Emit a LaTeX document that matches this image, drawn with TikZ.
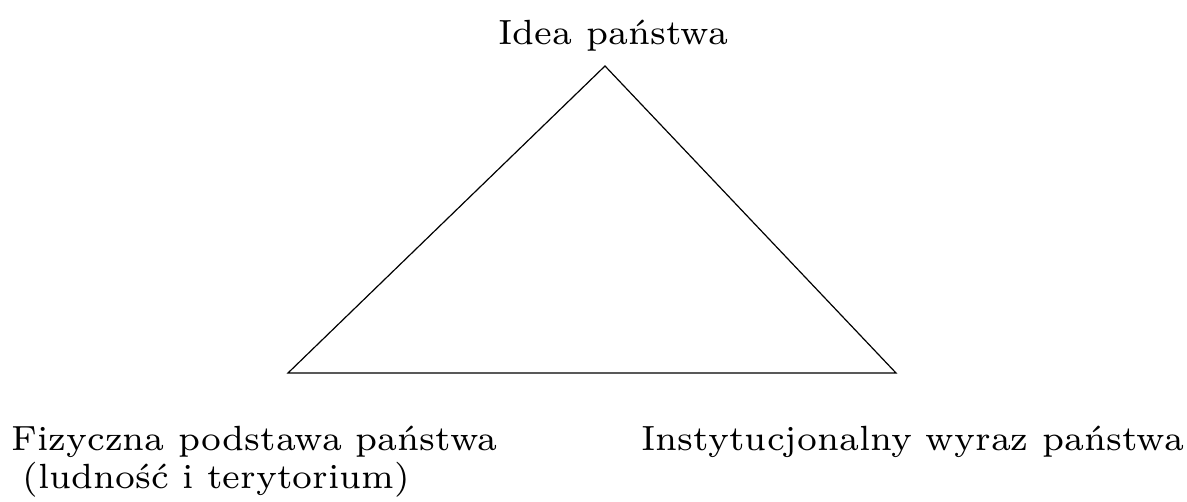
\documentclass[tikz,border=0pt]{standalone}
\usepackage{fontspec}
\setmainfont{lmroman7-regular}[Extension=.otf]
\begin{document}
\begin{tikzpicture}[x=0.5pt,y=-0.5pt,
  lbl/.style={inner sep=0pt,anchor=base west,font=\fontsize{17.5}{21}\selectfont},
  edge/.style={line width=0.6pt}]
\useasboundingbox (0,0) rectangle (1187,502);
\coordinate (top) at (605,66);
\coordinate (bl) at (288,373);
\coordinate (br) at (896,373);
\draw[edge] (top) -- (bl) -- (br) -- cycle;
\node[lbl] (idea) at (498,45) {Idea państwa};
\node[lbl] (fiz) at (11,450) {Fizyczna podstawa państwa};
\node[lbl] (lud) at (22,488) {(ludność i terytorium)};
\node[lbl] (inst) at (641,450) {Instytucjonalny wyraz państwa};
\end{tikzpicture}
\end{document}
